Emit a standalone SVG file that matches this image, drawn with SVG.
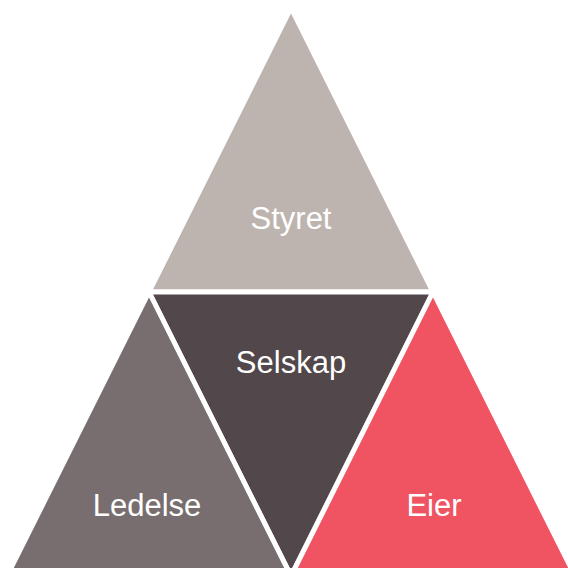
<svg xmlns="http://www.w3.org/2000/svg" width="568" height="568" viewBox="0 0 568 568">
<style>
.tri{stroke:#fff;stroke-width:5;stroke-linejoin:miter}
.lbl{font-family:"Liberation Sans",Arial,sans-serif;font-size:31px;fill:#fff;text-anchor:middle}
</style>
<rect width="568" height="568" fill="#fff"/>
<g id="styret">
<polygon class="tri" points="291,8 433,292 149,292" fill="#BEB4AF"/>
<text class="lbl" x="291" y="229">Styret</text>
</g>
<g id="selskap">
<polygon class="tri" points="149,292 433,292 291,576" fill="#52474A"/>
<text class="lbl" x="291" y="373">Selskap</text>
</g>
<g id="ledelse">
<polygon class="tri" points="149,292 291,576 7,576" fill="#786E6F"/>
<text class="lbl" x="147" y="516">Ledelse</text>
</g>
<g id="eier">
<polygon class="tri" points="433,292 575,576 291,576" fill="#F05463"/>
<text class="lbl" x="434" y="516">Eier</text>
</g>
<g id="connectors"/>
</svg>
